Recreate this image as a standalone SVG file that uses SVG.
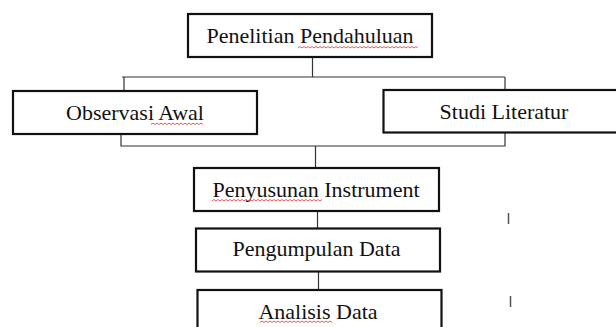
<svg xmlns="http://www.w3.org/2000/svg" width="616" height="327" viewBox="0 0 616 327">
<style>
.box{fill:#fff;stroke:#111;stroke-width:2.2}
.t{font-family:"Liberation Serif","Times New Roman",serif;font-size:22px;fill:#111;text-anchor:middle}
.c{fill:none;stroke:#333;stroke-width:1.2}
.sq{fill:none;stroke:#e03030;stroke-width:0.8}
.tk{stroke:#555;stroke-width:1.5}
</style>
<rect width="616" height="327" fill="#fff"/>
<g id="connectors">
<path class="c" d="M312.5,57 V77 M122,77 H505 M124,77 V91 M505,77 V90"/>
<path class="c" d="M121,134 V146 H505 V132 M315.5,146 V168"/>
<path class="c" d="M317.5,207 V228"/>
<path class="c" d="M318.5,269 V290"/>
<path class="tk" d="M508.5,213 V224 M510.5,296 V307"/>
</g>
<g id="n1">
<rect class="box" x="188" y="14" width="244" height="43"/>
<text class="t" x="310" y="43">Penelitian Pendahuluan</text>
<path class="sq" d="M298,48 l2,-1.5 l2,1.5 l2,-1.5 l2,1.5 l2,-1.5 l2,1.5 l2,-1.5 l2,1.5 l2,-1.5 l2,1.5 l2,-1.5 l2,1.5 l2,-1.5 l2,1.5 l2,-1.5 l2,1.5 l2,-1.5 l2,1.5 l2,-1.5 l2,1.5 l2,-1.5 l2,1.5 l2,-1.5 l2,1.5 l2,-1.5 l2,1.5 l2,-1.5 l2,1.5 l2,-1.5 l2,1.5 l2,-1.5 l2,1.5 l2,-1.5 l2,1.5 l2,-1.5 l2,1.5 l2,-1.5 l2,1.5 l2,-1.5 l2,1.5 l2,-1.5 l2,1.5 l2,-1.5 l2,1.5 l2,-1.5 l2,1.5 l2,-1.5 l2,1.5 l2,-1.5 l2,1.5 l2,-1.5 l2,1.5 l2,-1.5 l2,1.5 l2,-1.5 l2,1.5 l2,-1.5 l2,1.5 l2,-1.5 l2,1.5"/>
</g>
<g id="n2">
<rect class="box" x="13" y="91" width="244" height="43"/>
<text class="t" x="135" y="119.5">Observasi Awal</text>
<path class="sq" d="M151,124.5 l2,-1.5 l2,1.5 l2,-1.5 l2,1.5 l2,-1.5 l2,1.5 l2,-1.5 l2,1.5 l2,-1.5 l2,1.5 l2,-1.5 l2,1.5 l2,-1.5 l2,1.5 l2,-1.5 l2,1.5 l2,-1.5 l2,1.5 l2,-1.5 l2,1.5 l2,-1.5 l2,1.5 l2,-1.5 l2,1.5 l2,-1.5 l2,1.5"/>
</g>
<g id="n3">
<rect class="box" x="383.5" y="90" width="242" height="42.5"/>
<text class="t" x="504" y="118.5">Studi Literatur</text>
</g>
<g id="n4">
<rect class="box" x="194" y="168" width="245" height="43"/>
<text class="t" x="316" y="196.5">Penyusunan Instrument</text>
<path class="sq" d="M212,201 l2,-1.5 l2,1.5 l2,-1.5 l2,1.5 l2,-1.5 l2,1.5 l2,-1.5 l2,1.5 l2,-1.5 l2,1.5 l2,-1.5 l2,1.5 l2,-1.5 l2,1.5 l2,-1.5 l2,1.5 l2,-1.5 l2,1.5 l2,-1.5 l2,1.5 l2,-1.5 l2,1.5 l2,-1.5 l2,1.5 l2,-1.5 l2,1.5 l2,-1.5 l2,1.5 l2,-1.5 l2,1.5 l2,-1.5 l2,1.5 l2,-1.5 l2,1.5 l2,-1.5 l2,1.5 l2,-1.5 l2,1.5 l2,-1.5 l2,1.5 l2,-1.5 l2,1.5 l2,-1.5 l2,1.5 l2,-1.5 l2,1.5 l2,-1.5 l2,1.5 l2,-1.5 l2,1.5 l2,-1.5 l2,1.5 l2,-1.5 l2,1.5 l2,-1.5"/>
</g>
<g id="n5">
<rect class="box" x="196" y="228.5" width="244" height="43"/>
<text class="t" x="316.5" y="256">Pengumpulan Data</text>
</g>
<g id="n6">
<rect class="box" x="197.5" y="290" width="244" height="45"/>
<text class="t" x="318" y="319">Analisis Data</text>
<path class="sq" d="M260,322.5 l2,-1.5 l2,1.5 l2,-1.5 l2,1.5 l2,-1.5 l2,1.5 l2,-1.5 l2,1.5 l2,-1.5 l2,1.5 l2,-1.5 l2,1.5 l2,-1.5 l2,1.5 l2,-1.5 l2,1.5 l2,-1.5 l2,1.5 l2,-1.5 l2,1.5 l2,-1.5 l2,1.5 l2,-1.5 l2,1.5 l2,-1.5 l2,1.5 l2,-1.5 l2,1.5 l2,-1.5 l2,1.5 l2,-1.5 l2,1.5 l2,-1.5 l2,1.5 l2,-1.5 l2,1.5"/>
</g>
</svg>
